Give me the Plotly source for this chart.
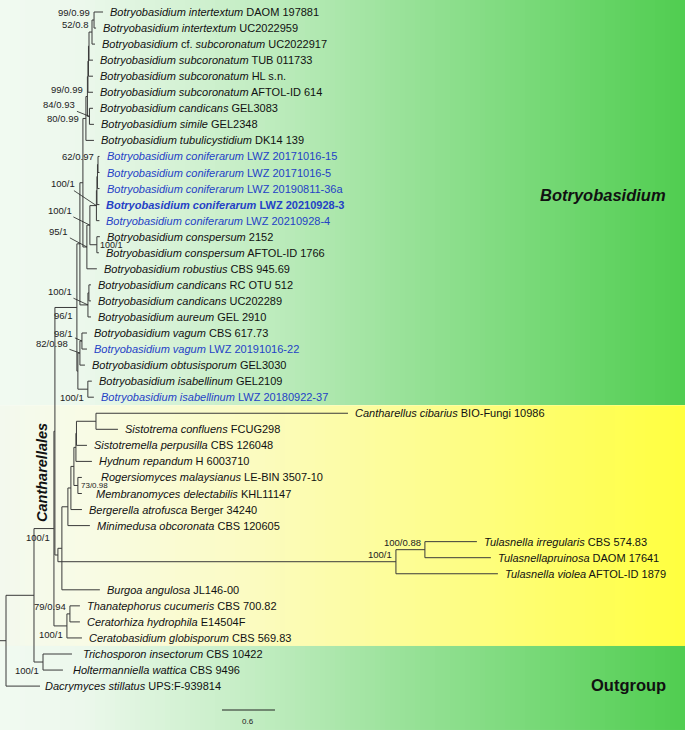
import numpy as np
import plotly.graph_objects as go

# ---------------- data ----------------
leaf_species = [
    "Botryobasidium intertextum", "Botryobasidium intertextum", "Botryobasidium cf. subcoronatum",
    "Botryobasidium subcoronatum", "Botryobasidium subcoronatum", "Botryobasidium subcoronatum",
    "Botryobasidium candicans", "Botryobasidium simile", "Botryobasidium tubulicystidium",
    "Botryobasidium coniferarum", "Botryobasidium coniferarum", "Botryobasidium coniferarum",
    "Botryobasidium coniferarum", "Botryobasidium coniferarum", "Botryobasidium conspersum",
    "Botryobasidium conspersum", "Botryobasidium robustius", "Botryobasidium candicans",
    "Botryobasidium candicans", "Botryobasidium aureum", "Botryobasidium vagum",
    "Botryobasidium vagum", "Botryobasidium obtusisporum", "Botryobasidium isabellinum",
    "Botryobasidium isabellinum", "Cantharellus cibarius", "Sistotrema confluens",
    "Sistotremella perpusilla", "Hydnum repandum", "Rogersiomyces malaysianus",
    "Membranomyces delectabilis", "Bergerella atrofusca", "Minimedusa obcoronata",
    "Tulasnella irregularis", "Tulasnellapruinosa", "Tulasnella violea",
    "Burgoa angulosa", "Thanatephorus cucumeris", "Ceratorhiza hydrophila",
    "Ceratobasidium globisporum", "Trichosporon insectorum", "Holtermanniella wattica",
    "Dacrymyces stillatus",
]
leaf_voucher = [
    "DAOM 197881", "UC2022959", "UC2022917", "TUB 011733", "HL s.n.", "AFTOL-ID 614",
    "GEL3083", "GEL2348", "DK14 139", "LWZ 20171016-15", "LWZ 20171016-5",
    "LWZ 20190811-36a", "LWZ 20210928-3", "LWZ 20210928-4", "2152", "AFTOL-ID 1766",
    "CBS 945.69", "RC OTU 512", "UC202289", "GEL 2910", "CBS 617.73", "LWZ 20191016-22",
    "GEL3030", "GEL2109", "LWZ 20180922-37", "BIO-Fungi 10986", "FCUG298", "CBS 126048",
    "H 6003710", "LE-BIN 3507-10", "KHL11147", "Berger 34240", "CBS 120605",
    "CBS 574.83", "DAOM 17641", "AFTOL-ID 1879", "JL146-00", "CBS 700.82", "E14504F",
    "CBS 569.83", "CBS 10422", "CBS 9496", "UPS:F-939814",
]
leaf_parent = [
    "a7", "a7", "a6", "a5", "a4", "a2", "a3", "a3", "A",
    "Co4", "Co4", "Co3", "Co2", "Co", "Cs", "Cs", "B17", "Cn", "Cn", "C",
    "Vg", "Vg", "VO", "Is", "Is",
    "CS", "CS", "H2", "H1", "RM", "RM", "C2", "C1",
    "T1", "T1", "T", "Y", "Ce1", "Ce1", "Ce", "Tr", "Tr", "root",
]
leaf_length = [
    0.102, 0.023, 0.034, 0.045, 0.051, 0.057, 0.040, 0.051, 0.091,
    0.017, 0.017, 0.023, 0.028, 0.034, 0.034, 0.023, 0.113, 0.023, 0.023, 0.034,
    0.057, 0.057, 0.057, 0.045, 0.068,
    2.854, 0.249, 0.119, 0.181, 0.045, 0.045, 0.125, 0.249,
    0.589, 0.747, 1.155, 0.430, 0.113, 0.113, 0.170, 0.328, 0.226, 0.385,
]
leaf_new = [0] * 9 + [1, 1, 1, 1, 1] + [0] * 7 + [1, 0, 0, 1] + [0] * 18
leaf_bold = [0] * 12 + [1] + [0] * 30

node_names = ["root", "I", "K", "Z", "Bo", "E", "AB17", "A", "a1", "a2", "a4", "a5", "a6", "a7",
              "a3", "B17", "B", "Co", "Co2", "Co3", "Co4", "Cs", "C", "Cn", "D", "VO", "Vg", "Is",
              "X", "Y", "C1", "C2", "C3", "H1", "H2", "CS", "RM", "T", "T1", "Ce", "Ce1", "Tr"]
node_parent = [None, "root", "I", "K", "Z", "Bo", "E", "AB17", "A", "a1", "a2", "a4", "a5", "a6",
               "a1", "AB17", "B17", "B", "Co", "Co2", "Co3", "B", "E", "C", "Bo", "D", "VO", "D",
               "Z", "X", "Y", "C1", "C2", "C3", "H1", "H2", "C3", "X", "T", "K", "Ce", "I"]
node_length = [0.0, 0.317, 0.226, 0.011, 0.249, 0.034, 0.034, 0.034, 0.017, 0.006, 0.006, 0.006,
               0.034, 0.023, 0.023, 0.045, 0.034, 0.074, 0.006, 0.006, 0.006, 0.079, 0.091, 0.011,
               0.011, 0.023, 0.023, 0.113, 0.034, 0.045, 0.068, 0.034, 0.034, 0.023, 0.006, 0.221,
               0.045, 3.828, 0.328, 0.147, 0.034, 0.102]
node_support = ["", "", "100/1", "", "96/1", "", "", "80/0.99", "99/0.99", "", "", "", "52/0.8",
                "99/0.99", "84/0.93", "95/1", "100/1", "100/1", "", "", "62/0.97", "100/1",
                "100/1", "", "", "82/0.98", "98/1", "100/1", "", "", "", "", "", "", "", "",
                "73/0.98", "100/1", "100/0.88", "100/1", "79/0.94", "100/1"]

group_labels = ["Botryobasidium", "Cantharellales", "Outgroup"]
scale_value = 0.6

# ---------------- layout / style constants ----------------
W, H = 685, 730
PX_PER_UNIT = 88.3
X0_PX = 6.0            # pixel of root
ROW0_PX, ROW_PX = 12.0, 16.05
FONT = "Liberation Sans, Arial, sans-serif"
LINE_COL = "#3a3a3a"
BLUE = "#2442c6"


def px_to_row(py):
    return (py - ROW0_PX) / ROW_PX


xr = [(0 - X0_PX) / PX_PER_UNIT, (W - X0_PX) / PX_PER_UNIT]
yr = [px_to_row(H), px_to_row(0)]

# ---------------- tree computation ----------------
children = {n: [] for n in node_names}
parent_of, length_of = {}, {}
for n, p, l in zip(node_names, node_parent, node_length):
    parent_of[n], length_of[n] = p, l
    if p is not None:
        children[p].append(n)
leaf_ids = [f"L{i}" for i in range(len(leaf_species))]
for i, (p, l) in enumerate(zip(leaf_parent, leaf_length)):
    lid = leaf_ids[i]
    parent_of[lid], length_of[lid] = p, l
    children[p].append(lid)

X, Y = {}, {}


def set_x(n, x):
    X[n] = x
    for c in children.get(n, []):
        set_x(c, x + length_of[c])


set_x("root", 0.0)


def set_y(n):
    if n.startswith("L"):
        Y[n] = float(int(n[1:]))
        return Y[n]
    ys = [set_y(c) for c in children[n]]
    Y[n] = (min(ys) + max(ys)) / 2
    return Y[n]


set_y("root")

lx, ly = [], []
for n in list(X.keys()):
    p = parent_of[n]
    if p is not None:
        lx += [X[p], X[n], None]
        ly += [Y[n], Y[n], None]
    if children.get(n):
        ys = [Y[c] for c in children[n]]
        lx += [X[n], X[n], None]
        ly += [min(ys), max(ys), None]
root_stub = 0.068
lx += [-root_stub, 0, None]
ly += [Y["root"], Y["root"], None]

fig = go.Figure()

# ---------------- backgrounds (gradients) ----------------
band_edges = [px_to_row(0), 24.5, 39.5, px_to_row(H)]
green_scale = [[0.0, "#f1faf1"], [0.12, "#ecf8ec"], [0.35, "#c6eec6"], [0.6, "#97e197"],
               [0.8, "#74d874"], [1.0, "#50cd50"]]
yellow_scale = [[0.0, "#f3f9ee"], [0.12, "#f8fbe6"], [0.35, "#fbfbc4"], [0.6, "#fdfd94"],
                [0.8, "#fefe6a"], [1.0, "#ffff3e"]]
ncol = 137
xe = np.linspace(xr[0], xr[1], ncol + 1)
tcol = (np.arange(ncol) + 0.5) / ncol
for bi, cs in enumerate([green_scale, yellow_scale, green_scale]):
    y0, y1 = band_edges[bi], band_edges[bi + 1]
    fig.add_trace(go.Heatmap(
        x=xe, y=[y0, (y0 + y1) / 2, y1], z=[tcol, tcol], zmin=0, zmax=1,
        colorscale=cs, showscale=False, hoverinfo="skip", zsmooth=False))

# ---------------- tree lines ----------------
fig.add_trace(go.Scatter(x=lx, y=ly, mode="lines", line=dict(color=LINE_COL, width=1),
                         hoverinfo="skip", showlegend=False))

ann = []


def fmt(sp, v, bold):
    if " cf. " in sp:
        a, b = sp.split(" cf. ")
        s = f"<i>{a}</i> cf. <i>{b}</i>"
    else:
        s = f"<i>{sp}</i>"
    t = f"{s} {v}"
    return f"<b>{t}</b>" if bold else t


label_shift = {29: 17, 30: 12, 42: 3, 40: 9, 41: 8}
for i in range(len(leaf_species)):
    lid = leaf_ids[i]
    ann.append(dict(x=X[lid], y=Y[lid], xref="x", yref="y", text=fmt(leaf_species[i], leaf_voucher[i], leaf_bold[i]),
                    showarrow=False, xanchor="left", yanchor="middle", xshift=label_shift.get(i, 5),
                    font=dict(family=FONT, size=11, color=BLUE if leaf_new[i] else "#111111")))

placement = {
    "a7": ("ul",), "a6": ("ul",), "a1": ("ul",), "a3": ("arrow", -30, -12), "A": ("ml",),
    "Co4": ("ul",), "Co": ("arrow", -33, -22), "B": ("arrow", -30, -15), "Cs": ("r",),
    "B17": ("arrow", -28, -15), "C": ("arrow", -28, -13), "Bo": ("ll",), "Vg": ("arrow", -18, -8),
    "VO": ("arrow", -28, -10), "Is": ("ll",), "RM": ("r",), "K": ("ll",), "T1": ("ul",),
    "T": ("ul",), "Ce1": ("ul",), "Ce": ("ll",), "Tr": ("ll",),
}
sfont = dict(family=FONT, size=9.5, color="#222222")
for n, s in zip(node_names, node_support):
    if not s:
        continue
    pl = placement.get(n, ("ul",))
    base = dict(x=X[n], y=Y[n], xref="x", yref="y", text=s, font=sfont)
    if pl[0] == "ul":
        base.update(showarrow=False, xanchor="right", yanchor="bottom", xshift=-2, yshift=0)
    elif pl[0] == "ml":
        base.update(showarrow=False, xanchor="right", yanchor="middle", xshift=-5, yshift=0)
    elif pl[0] == "ll":
        base.update(showarrow=False, xanchor="right", yanchor="top", xshift=-2, yshift=-1)
    elif pl[0] == "r":
        base.update(showarrow=False, xanchor="left", yanchor="middle", xshift=1)
        if n == "RM":
            base["font"] = dict(family=FONT, size=8, color="#222222")
        else:
            base["font"] = dict(family=FONT, size=9, color="#222222")
    else:
        base.update(showarrow=True, arrowhead=0, arrowwidth=0.8, arrowcolor="#222222",
                    ax=pl[1], ay=pl[2], standoff=0)
    ann.append(base)

# group labels
ann.append(dict(x=668 / W, y=1 - 195 / H, xref="paper", yref="paper", text=f"<b><i>{group_labels[0]}</i></b>",
                showarrow=False, xanchor="right", yanchor="middle", font=dict(family=FONT, size=16.5, color="#111")))
ann.append(dict(x=42 / W, y=1 - 473 / H, xref="paper", yref="paper", text=f"<b><i>{group_labels[1]}</i></b>",
                showarrow=False, xanchor="center", yanchor="middle", textangle=-90,
                font=dict(family=FONT, size=14.5, color="#111")))
ann.append(dict(x=668 / W, y=1 - 685 / H, xref="paper", yref="paper", text=f"<b>{group_labels[2]}</b>",
                showarrow=False, xanchor="right", yanchor="middle", font=dict(family=FONT, size=16.5, color="#111")))

# scale bar
sb_x0 = (222 - X0_PX) / PX_PER_UNIT
fig.add_shape(type="line", xref="x", yref="paper", x0=sb_x0, x1=sb_x0 + scale_value,
              y0=1 - 710 / H, y1=1 - 710 / H, line=dict(color="#222", width=1))
ann.append(dict(x=sb_x0 + scale_value / 2, y=1 - 721 / H, xref="x", yref="paper", text=str(scale_value),
                showarrow=False, xanchor="center", yanchor="middle", font=dict(family=FONT, size=8, color="#222")))

fig.update_layout(
    width=W, height=H, margin=dict(l=0, r=0, t=0, b=0),
    paper_bgcolor="white", plot_bgcolor="white", showlegend=False,
    xaxis=dict(range=xr, visible=False, fixedrange=True),
    yaxis=dict(range=yr, visible=False, fixedrange=True),
    annotations=ann,
)
fig.write_html("out.html", config={"displayModeBar": False},
               post_script="document.body.style.margin='0px';document.body.style.overflow='hidden';")
